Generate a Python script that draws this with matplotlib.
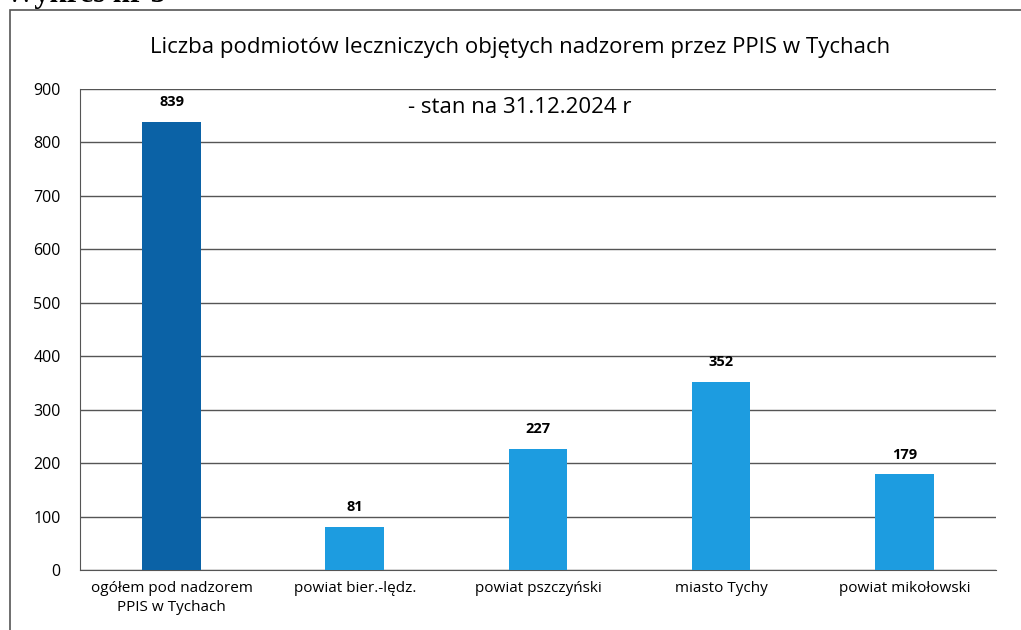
import matplotlib.pyplot as plt
from matplotlib.patches import Rectangle

plt.rcParams['font.family'] = ['Open Sans', 'DejaVu Sans']

categories = ['ogółem pod nadzorem\nPPIS w Tychach', 'powiat bier.-lędz.',
              'powiat pszczyński', 'miasto Tychy', 'powiat mikołowski']
values = [839, 81, 227, 352, 179]
colors = ['#0b62a6', '#1d9ce0', '#1d9ce0', '#1d9ce0', '#1d9ce0']
title = 'Liczba podmiotów leczniczych objętych nadzorem przez PPIS w Tychach'
subtitle = '- stan na 31.12.2024 r'

fig = plt.figure(figsize=(10.21, 6.3), dpi=100)
ax = fig.add_axes([0.0784, 0.0952, 0.897, 0.7635])

x = range(len(categories))
ax.bar(x, values, width=0.32, color=colors, zorder=3)
for i, v in enumerate(values):
    ax.annotate(str(v), (i, v), xytext=(0, 9), textcoords='offset points',
                ha='center', va='bottom', fontsize=10.5, fontweight='bold')

ax.set_xlim(-0.5, len(categories) - 0.5)
ax.set_ylim(0, 900)
ax.set_yticks(range(0, 901, 100))
ax.set_xticks(list(x))
ax.set_xticklabels(categories, fontsize=11, linespacing=1.35)
ax.tick_params(axis='y', length=0, pad=14, labelsize=11.5)
ax.tick_params(axis='x', length=0, pad=8)
ax.grid(axis='y', color='#555555', linewidth=1, zorder=0)
for s in ['top', 'right']:
    ax.spines[s].set_visible(False)
ax.spines['left'].set_color('#555555')
ax.spines['bottom'].set_color('#555555')

fig.text(0.509, 0.924, title, ha='center', va='center', fontsize=16)
fig.text(0.509, 0.829, subtitle, ha='center', va='center', fontsize=16)

# ramka wykresu i urwany podpis dokumentu
fig.patches.append(Rectangle((10 / 1021, -0.05), 1.05, 1.034, transform=fig.transFigure,
                             fill=False, edgecolor='#555555', linewidth=1.2))
fig.text(0.005, 0.997, 'Wykres nr 5', ha='left', va='baseline', fontsize=22,
         fontweight='bold', family='Liberation Serif')

fig.savefig('out.png', dpi=100)
